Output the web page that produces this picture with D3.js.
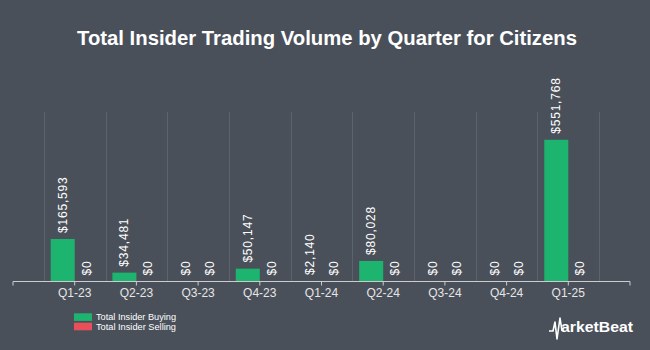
<!DOCTYPE html>
<html><head><meta charset="utf-8">
<script src="https://cdn.jsdelivr.net/npm/d3@7"></script>
<style>body{margin:0;background:#4a505a;}svg{display:block;font-family:"Liberation Sans",Arial,sans-serif;}</style>
</head><body>
<svg id="chart" width="650" height="350"></svg>
<script>
const quarters = ["Q1-23","Q2-23","Q3-23","Q4-23","Q1-24","Q2-24","Q3-24","Q4-24","Q1-25"];
const buying = [165593, 34481, 0, 50147, 2140, 80028, 0, 0, 551768];
const selling = [0, 0, 0, 0, 0, 0, 0, 0, 0];
const seriesNames = ["Total Insider Buying", "Total Insider Selling"];
const colors = ["#1db470", "#e84f5a"];
const titleText = "Total Insider Trading Volume by Quarter for Citizens";

const svg = d3.select("#chart");
const W = 650, H = 350;
svg.append("rect").attr("width", W).attr("height", H).attr("fill", "#4a505a");

svg.append("text").attr("x", 327).attr("y", 45).attr("text-anchor", "middle")
  .attr("fill", "#ffffff").attr("font-weight", "bold").attr("font-size", 20)
  .attr("textLength", 500).attr("lengthAdjust", "spacingAndGlyphs")
  .text(titleText);

const plotTop = 112, baseY = 281.5;
const x = d3.scaleBand().domain(quarters).range([43.85, 599.15]).padding(0);
const step = x.step();
const y = d3.scaleLinear().domain([0, 660000]).range([baseY, plotTop]);

// gridlines at band edges
const edges = quarters.map(q => x(q)).concat([x(quarters[quarters.length-1]) + step]);
svg.append("g").selectAll("line").data(edges).join("line")
  .attr("x1", d => Math.round(d) + 0.5).attr("x2", d => Math.round(d) + 0.5)
  .attr("y1", plotTop).attr("y2", baseY)
  .attr("stroke", "#5d636d").attr("stroke-width", 1);

const barW = 24;
const rows = quarters.map((q, i) => ({q, b: buying[i], s: selling[i]}));
const gBars = svg.append("g");
rows.forEach(r => {
  const c = x(r.q) + step / 2;
  [[r.b, c - barW, colors[0]], [r.s, c, colors[1]]].forEach(([v, x0, col]) => {
    gBars.append("rect").attr("x", x0).attr("width", barW)
      .attr("y", y(v)).attr("height", baseY - y(v)).attr("fill", col);
    const lx = x0 + barW / 2 + 4;
    const ly = y(v) - 6;
    gBars.append("text")
      .attr("transform", `translate(${lx},${ly}) rotate(-90)`)
      .attr("fill", "#ffffff").attr("font-size", 12).attr("letter-spacing", 0.8)
      .text("$" + d3.format(",")(v));
  });
});

// x axis
const axisG = svg.append("g").attr("transform", `translate(0,${baseY})`);
const axisStart = x.range()[0] - step / 2, axisEnd = x.range()[1] + step / 2;
axisG.append("line").attr("x1", axisStart).attr("x2", axisEnd).attr("y1", 0).attr("y2", 0)
  .attr("stroke", "#cccccc").attr("stroke-width", 1.2);
const tickXs = [axisStart].concat(quarters.map(q => x(q) + step / 2)).concat([axisEnd]);
axisG.selectAll("line.tick").data(tickXs).join("line").attr("class", "tick")
  .attr("x1", d => d).attr("x2", d => d).attr("y1", 0).attr("y2", 4)
  .attr("stroke", "#cccccc").attr("stroke-width", 1);
axisG.selectAll("text").data(quarters).join("text")
  .attr("x", q => x(q) + step / 2).attr("y", 15).attr("text-anchor", "middle")
  .attr("fill", "#e6e6e6").attr("font-size", 12).text(q => q);

// legend
const leg = svg.append("g");
seriesNames.forEach((n, i) => {
  leg.append("rect").attr("x", 74).attr("y", 313.3 + i * 9.4).attr("width", 18).attr("height", 7.6).attr("fill", colors[i]);
  leg.append("text").attr("x", 96).attr("y", 320.3 + i * 9.6).attr("fill", "#ffffff")
    .attr("font-size", 9).attr("textLength", 80).attr("lengthAdjust", "spacingAndGlyphs").text(n);
});

// MarketBeat logo
const logo = svg.append("g");
logo.append("path").attr("d", "M549,331 L553,331 L555,322 L557,339 L560,318 L562,331")
  .attr("fill", "none").attr("stroke", "#ffffff").attr("stroke-width", 1.6).attr("stroke-linejoin", "round");
logo.append("text").attr("x", 561).attr("y", 332).attr("fill", "#ffffff").attr("font-weight", "bold")
  .attr("font-size", 14).attr("textLength", 72).attr("lengthAdjust", "spacingAndGlyphs").text("arketBeat");
</script>
</body></html>
